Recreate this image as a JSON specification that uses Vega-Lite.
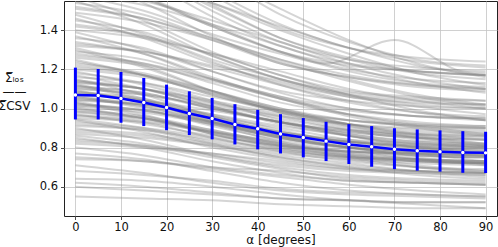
{
"$schema":"https://vega.github.io/schema/vega-lite/v6.json",
"width":433,"height":215,"autosize":"none",
"padding":{"left":64,"top":1,"right":1,"bottom":31},
"config":{"view":{"stroke":"#222","strokeWidth":1},"font":"DejaVu Sans",
"axis":{"grid":true,"gridColor":"#c4c4c4","gridWidth":0.8,"domain":false,"tickColor":"#222","tickSize":3.5,"tickWidth":0.8,"labelFontSize":11.5,"labelColor":"#111","titleFontSize":12,"titleFontWeight":"normal","titleColor":"#111","labelFont":"DejaVu Sans","titleFont":"DejaVu Sans"}},
"datasets":{
"mean":[
{"a":0,"m":1.069,"lo":0.944,"hi":1.209},{"a":5,"m":1.066,"lo":0.944,"hi":1.202},{"a":10,"m":1.051,"lo":0.927,"hi":1.187},{"a":15,"m":1.031,"lo":0.910,"hi":1.156},{"a":20,"m":1.005,"lo":0.889,"hi":1.122},{"a":25,"m":0.974,"lo":0.864,"hi":1.088},{"a":30,"m":0.949,"lo":0.842,"hi":1.054},{"a":35,"m":0.918,"lo":0.816,"hi":1.022},{"a":40,"m":0.896,"lo":0.791,"hi":0.993},{"a":45,"m":0.870,"lo":0.770,"hi":0.971},{"a":50,"m":0.852,"lo":0.750,"hi":0.951},{"a":55,"m":0.833,"lo":0.731,"hi":0.932},{"a":60,"m":0.816,"lo":0.716,"hi":0.920},{"a":65,"m":0.804,"lo":0.702,"hi":0.910},{"a":70,"m":0.792,"lo":0.690,"hi":0.899},{"a":75,"m":0.784,"lo":0.682,"hi":0.893},{"a":80,"m":0.779,"lo":0.677,"hi":0.888},{"a":85,"m":0.775,"lo":0.671,"hi":0.884},{"a":90,"m":0.773,"lo":0.670,"hi":0.881}],
"lines":[
{"g":1,"a":0,"v":0.55},{"g":1,"a":15,"v":0.54},{"g":1,"a":30,"v":0.53},{"g":1,"a":45,"v":0.51},{"g":1,"a":60,"v":0.50},{"g":1,"a":75,"v":0.49},{"g":1,"a":90,"v":0.49},
{"g":2,"a":0,"v":0.60},{"g":2,"a":15,"v":0.58},{"g":2,"a":30,"v":0.56},{"g":2,"a":45,"v":0.54},{"g":2,"a":60,"v":0.53},{"g":2,"a":75,"v":0.52},{"g":2,"a":90,"v":0.52},
{"g":3,"a":0,"v":0.64},{"g":3,"a":15,"v":0.63},{"g":3,"a":30,"v":0.60},{"g":3,"a":45,"v":0.56},{"g":3,"a":60,"v":0.53},{"g":3,"a":75,"v":0.51},{"g":3,"a":90,"v":0.49},
{"g":4,"a":0,"v":0.68},{"g":4,"a":15,"v":0.66},{"g":4,"a":30,"v":0.63},{"g":4,"a":45,"v":0.59},{"g":4,"a":60,"v":0.57},{"g":4,"a":75,"v":0.56},{"g":4,"a":90,"v":0.55},
{"g":5,"a":0,"v":0.71},{"g":5,"a":15,"v":0.67},{"g":5,"a":30,"v":0.62},{"g":5,"a":45,"v":0.58},{"g":5,"a":60,"v":0.56},{"g":5,"a":75,"v":0.55},{"g":5,"a":90,"v":0.54},
{"g":6,"a":0,"v":0.74},{"g":6,"a":15,"v":0.73},{"g":6,"a":30,"v":0.70},{"g":6,"a":45,"v":0.68},{"g":6,"a":60,"v":0.65},{"g":6,"a":75,"v":0.63},{"g":6,"a":90,"v":0.62},
{"g":7,"a":0,"v":0.77},{"g":7,"a":15,"v":0.74},{"g":7,"a":30,"v":0.68},{"g":7,"a":45,"v":0.62},{"g":7,"a":60,"v":0.58},{"g":7,"a":75,"v":0.56},{"g":7,"a":90,"v":0.55},
{"g":8,"a":0,"v":0.80},{"g":8,"a":15,"v":0.76},{"g":8,"a":30,"v":0.70},{"g":8,"a":45,"v":0.66},{"g":8,"a":60,"v":0.63},{"g":8,"a":75,"v":0.62},{"g":8,"a":90,"v":0.61},
{"g":9,"a":0,"v":0.82},{"g":9,"a":15,"v":0.80},{"g":9,"a":30,"v":0.77},{"g":9,"a":45,"v":0.73},{"g":9,"a":60,"v":0.69},{"g":9,"a":75,"v":0.67},{"g":9,"a":90,"v":0.65},
{"g":10,"a":0,"v":0.84},{"g":10,"a":15,"v":0.81},{"g":10,"a":30,"v":0.75},{"g":10,"a":45,"v":0.69},{"g":10,"a":60,"v":0.64},{"g":10,"a":75,"v":0.62},{"g":10,"a":90,"v":0.61},
{"g":11,"a":0,"v":0.86},{"g":11,"a":15,"v":0.82},{"g":11,"a":30,"v":0.76},{"g":11,"a":45,"v":0.71},{"g":11,"a":60,"v":0.68},{"g":11,"a":75,"v":0.67},{"g":11,"a":90,"v":0.66},
{"g":12,"a":0,"v":0.88},{"g":12,"a":15,"v":0.86},{"g":12,"a":30,"v":0.81},{"g":12,"a":45,"v":0.75},{"g":12,"a":60,"v":0.70},{"g":12,"a":75,"v":0.66},{"g":12,"a":90,"v":0.64},
{"g":13,"a":0,"v":0.89},{"g":13,"a":15,"v":0.87},{"g":13,"a":30,"v":0.82},{"g":13,"a":45,"v":0.77},{"g":13,"a":60,"v":0.74},{"g":13,"a":75,"v":0.72},{"g":13,"a":90,"v":0.71},
{"g":14,"a":0,"v":0.90},{"g":14,"a":15,"v":0.84},{"g":14,"a":30,"v":0.76},{"g":14,"a":45,"v":0.70},{"g":14,"a":60,"v":0.66},{"g":14,"a":75,"v":0.64},{"g":14,"a":90,"v":0.63},
{"g":15,"a":0,"v":0.91},{"g":15,"a":15,"v":0.89},{"g":15,"a":30,"v":0.84},{"g":15,"a":45,"v":0.79},{"g":15,"a":60,"v":0.74},{"g":15,"a":75,"v":0.70},{"g":15,"a":90,"v":0.68},
{"g":16,"a":0,"v":0.93},{"g":16,"a":15,"v":0.90},{"g":16,"a":30,"v":0.85},{"g":16,"a":45,"v":0.79},{"g":16,"a":60,"v":0.75},{"g":16,"a":75,"v":0.73},{"g":16,"a":90,"v":0.72},
{"g":17,"a":0,"v":0.94},{"g":17,"a":15,"v":0.88},{"g":17,"a":30,"v":0.80},{"g":17,"a":45,"v":0.74},{"g":17,"a":60,"v":0.70},{"g":17,"a":75,"v":0.68},{"g":17,"a":90,"v":0.67},
{"g":18,"a":0,"v":0.95},{"g":18,"a":15,"v":0.93},{"g":18,"a":30,"v":0.88},{"g":18,"a":45,"v":0.83},{"g":18,"a":60,"v":0.78},{"g":18,"a":75,"v":0.74},{"g":18,"a":90,"v":0.72},
{"g":19,"a":0,"v":0.96},{"g":19,"a":15,"v":0.93},{"g":19,"a":30,"v":0.85},{"g":19,"a":45,"v":0.78},{"g":19,"a":60,"v":0.73},{"g":19,"a":75,"v":0.70},{"g":19,"a":90,"v":0.69},
{"g":20,"a":0,"v":0.97},{"g":20,"a":15,"v":0.92},{"g":20,"a":30,"v":0.86},{"g":20,"a":45,"v":0.81},{"g":20,"a":60,"v":0.78},{"g":20,"a":75,"v":0.77},{"g":20,"a":90,"v":0.76},
{"g":21,"a":0,"v":0.98},{"g":21,"a":15,"v":0.95},{"g":21,"a":30,"v":0.89},{"g":21,"a":45,"v":0.82},{"g":21,"a":60,"v":0.76},{"g":21,"a":75,"v":0.71},{"g":21,"a":90,"v":0.68},
{"g":22,"a":0,"v":0.99},{"g":22,"a":15,"v":0.96},{"g":22,"a":30,"v":0.89},{"g":22,"a":45,"v":0.82},{"g":22,"a":60,"v":0.77},{"g":22,"a":75,"v":0.74},{"g":22,"a":90,"v":0.73},
{"g":23,"a":0,"v":1.00},{"g":23,"a":15,"v":0.95},{"g":23,"a":30,"v":0.88},{"g":23,"a":45,"v":0.82},{"g":23,"a":60,"v":0.78},{"g":23,"a":75,"v":0.77},{"g":23,"a":90,"v":0.76},
{"g":24,"a":0,"v":1.01},{"g":24,"a":15,"v":0.98},{"g":24,"a":30,"v":0.92},{"g":24,"a":45,"v":0.85},{"g":24,"a":60,"v":0.79},{"g":24,"a":75,"v":0.74},{"g":24,"a":90,"v":0.71},
{"g":25,"a":0,"v":1.02},{"g":25,"a":15,"v":0.99},{"g":25,"a":30,"v":0.92},{"g":25,"a":45,"v":0.85},{"g":25,"a":60,"v":0.80},{"g":25,"a":75,"v":0.77},{"g":25,"a":90,"v":0.76},
{"g":26,"a":0,"v":1.03},{"g":26,"a":15,"v":0.96},{"g":26,"a":30,"v":0.87},{"g":26,"a":45,"v":0.80},{"g":26,"a":60,"v":0.76},{"g":26,"a":75,"v":0.74},{"g":26,"a":90,"v":0.73},
{"g":27,"a":0,"v":1.04},{"g":27,"a":15,"v":1.02},{"g":27,"a":30,"v":0.97},{"g":27,"a":45,"v":0.91},{"g":27,"a":60,"v":0.86},{"g":27,"a":75,"v":0.82},{"g":27,"a":90,"v":0.80},
{"g":28,"a":0,"v":1.05},{"g":28,"a":15,"v":1.01},{"g":28,"a":30,"v":0.92},{"g":28,"a":45,"v":0.83},{"g":28,"a":60,"v":0.77},{"g":28,"a":75,"v":0.73},{"g":28,"a":90,"v":0.72},
{"g":29,"a":0,"v":1.06},{"g":29,"a":15,"v":1.00},{"g":29,"a":30,"v":0.91},{"g":29,"a":45,"v":0.84},{"g":29,"a":60,"v":0.80},{"g":29,"a":75,"v":0.78},{"g":29,"a":90,"v":0.77},
{"g":30,"a":0,"v":1.07},{"g":30,"a":15,"v":1.04},{"g":30,"a":30,"v":0.99},{"g":30,"a":45,"v":0.93},{"g":30,"a":60,"v":0.87},{"g":30,"a":75,"v":0.83},{"g":30,"a":90,"v":0.80},
{"g":31,"a":0,"v":1.08},{"g":31,"a":15,"v":1.04},{"g":31,"a":30,"v":0.95},{"g":31,"a":45,"v":0.86},{"g":31,"a":60,"v":0.80},{"g":31,"a":75,"v":0.76},{"g":31,"a":90,"v":0.75},
{"g":32,"a":0,"v":1.09},{"g":32,"a":15,"v":1.03},{"g":32,"a":30,"v":0.94},{"g":32,"a":45,"v":0.87},{"g":32,"a":60,"v":0.83},{"g":32,"a":75,"v":0.81},{"g":32,"a":90,"v":0.80},
{"g":33,"a":0,"v":1.10},{"g":33,"a":15,"v":1.07},{"g":33,"a":30,"v":1.00},{"g":33,"a":45,"v":0.93},{"g":33,"a":60,"v":0.86},{"g":33,"a":75,"v":0.81},{"g":33,"a":90,"v":0.78},
{"g":34,"a":0,"v":1.11},{"g":34,"a":15,"v":1.08},{"g":34,"a":30,"v":1.00},{"g":34,"a":45,"v":0.93},{"g":34,"a":60,"v":0.88},{"g":34,"a":75,"v":0.85},{"g":34,"a":90,"v":0.84},
{"g":35,"a":0,"v":1.12},{"g":35,"a":15,"v":1.04},{"g":35,"a":30,"v":0.93},{"g":35,"a":45,"v":0.85},{"g":35,"a":60,"v":0.80},{"g":35,"a":75,"v":0.77},{"g":35,"a":90,"v":0.76},
{"g":36,"a":0,"v":1.13},{"g":36,"a":15,"v":1.10},{"g":36,"a":30,"v":1.03},{"g":36,"a":45,"v":0.96},{"g":36,"a":60,"v":0.89},{"g":36,"a":75,"v":0.84},{"g":36,"a":90,"v":0.81},
{"g":37,"a":0,"v":1.14},{"g":37,"a":15,"v":1.10},{"g":37,"a":30,"v":1.02},{"g":37,"a":45,"v":0.95},{"g":37,"a":60,"v":0.89},{"g":37,"a":75,"v":0.86},{"g":37,"a":90,"v":0.85},
{"g":38,"a":0,"v":1.15},{"g":38,"a":15,"v":1.07},{"g":38,"a":30,"v":0.96},{"g":38,"a":45,"v":0.88},{"g":38,"a":60,"v":0.83},{"g":38,"a":75,"v":0.80},{"g":38,"a":90,"v":0.79},
{"g":39,"a":0,"v":1.16},{"g":39,"a":15,"v":1.13},{"g":39,"a":30,"v":1.06},{"g":39,"a":45,"v":0.99},{"g":39,"a":60,"v":0.92},{"g":39,"a":75,"v":0.87},{"g":39,"a":90,"v":0.84},
{"g":40,"a":0,"v":1.18},{"g":40,"a":15,"v":1.13},{"g":40,"a":30,"v":1.04},{"g":40,"a":45,"v":0.94},{"g":40,"a":60,"v":0.87},{"g":40,"a":75,"v":0.83},{"g":40,"a":90,"v":0.82},
{"g":41,"a":0,"v":1.19},{"g":41,"a":15,"v":1.12},{"g":41,"a":30,"v":1.03},{"g":41,"a":45,"v":0.96},{"g":41,"a":60,"v":0.92},{"g":41,"a":75,"v":0.90},{"g":41,"a":90,"v":0.89},
{"g":42,"a":0,"v":1.21},{"g":42,"a":15,"v":1.17},{"g":42,"a":30,"v":1.09},{"g":42,"a":45,"v":1.00},{"g":42,"a":60,"v":0.92},{"g":42,"a":75,"v":0.86},{"g":42,"a":90,"v":0.82},
{"g":43,"a":0,"v":1.22},{"g":43,"a":15,"v":1.17},{"g":43,"a":30,"v":1.08},{"g":43,"a":45,"v":0.98},{"g":43,"a":60,"v":0.91},{"g":43,"a":75,"v":0.87},{"g":43,"a":90,"v":0.86},
{"g":44,"a":0,"v":1.24},{"g":44,"a":15,"v":1.17},{"g":44,"a":30,"v":1.07},{"g":44,"a":45,"v":0.99},{"g":44,"a":60,"v":0.94},{"g":44,"a":75,"v":0.92},{"g":44,"a":90,"v":0.91},
{"g":45,"a":0,"v":1.26},{"g":45,"a":15,"v":1.22},{"g":45,"a":30,"v":1.14},{"g":45,"a":45,"v":1.05},{"g":45,"a":60,"v":0.96},{"g":45,"a":75,"v":0.90},{"g":45,"a":90,"v":0.86},
{"g":46,"a":0,"v":1.28},{"g":46,"a":15,"v":1.23},{"g":46,"a":30,"v":1.13},{"g":46,"a":45,"v":1.03},{"g":46,"a":60,"v":0.97},{"g":46,"a":75,"v":0.93},{"g":46,"a":90,"v":0.91},
{"g":47,"a":0,"v":1.30},{"g":47,"a":15,"v":1.21},{"g":47,"a":30,"v":1.09},{"g":47,"a":45,"v":1.00},{"g":47,"a":60,"v":0.94},{"g":47,"a":75,"v":0.91},{"g":47,"a":90,"v":0.90},
{"g":48,"a":0,"v":1.32},{"g":48,"a":15,"v":1.29},{"g":48,"a":30,"v":1.22},{"g":48,"a":45,"v":1.14},{"g":48,"a":60,"v":1.06},{"g":48,"a":75,"v":1.01},{"g":48,"a":90,"v":0.97},
{"g":49,"a":0,"v":1.34},{"g":49,"a":15,"v":1.28},{"g":49,"a":30,"v":1.16},{"g":49,"a":45,"v":1.05},{"g":49,"a":60,"v":0.97},{"g":49,"a":75,"v":0.92},{"g":49,"a":90,"v":0.90},
{"g":50,"a":0,"v":1.37},{"g":50,"a":15,"v":1.28},{"g":50,"a":30,"v":1.15},{"g":50,"a":45,"v":1.05},{"g":50,"a":60,"v":0.99},{"g":50,"a":75,"v":0.96},{"g":50,"a":90,"v":0.95},
{"g":51,"a":0,"v":1.40},{"g":51,"a":15,"v":1.36},{"g":51,"a":30,"v":1.28},{"g":51,"a":45,"v":1.19},{"g":51,"a":60,"v":1.10},{"g":51,"a":75,"v":1.04},{"g":51,"a":90,"v":1.00},
{"g":52,"a":0,"v":1.43},{"g":52,"a":15,"v":1.37},{"g":52,"a":30,"v":1.24},{"g":52,"a":45,"v":1.12},{"g":52,"a":60,"v":1.03},{"g":52,"a":75,"v":0.98},{"g":52,"a":90,"v":0.96},
{"g":53,"a":0,"v":1.46},{"g":53,"a":15,"v":1.36},{"g":53,"a":30,"v":1.23},{"g":53,"a":45,"v":1.13},{"g":53,"a":60,"v":1.06},{"g":53,"a":75,"v":1.03},{"g":53,"a":90,"v":1.02},
{"g":54,"a":0,"v":1.49},{"g":54,"a":15,"v":1.44},{"g":54,"a":30,"v":1.35},{"g":54,"a":45,"v":1.24},{"g":54,"a":60,"v":1.14},{"g":54,"a":75,"v":1.06},{"g":54,"a":90,"v":1.01},
{"g":55,"a":0,"v":1.52},{"g":55,"a":15,"v":1.46},{"g":55,"a":30,"v":1.35},{"g":55,"a":45,"v":1.23},{"g":55,"a":60,"v":1.16},{"g":55,"a":75,"v":1.11},{"g":55,"a":90,"v":1.09},
{"g":56,"a":0,"v":1.55},{"g":56,"a":15,"v":1.43},{"g":56,"a":30,"v":1.27},{"g":56,"a":45,"v":1.15},{"g":56,"a":60,"v":1.07},{"g":56,"a":75,"v":1.04},{"g":56,"a":90,"v":1.02},
{"g":57,"a":0,"v":1.58},{"g":57,"a":15,"v":1.53},{"g":57,"a":30,"v":1.43},{"g":57,"a":45,"v":1.32},{"g":57,"a":60,"v":1.21},{"g":57,"a":75,"v":1.13},{"g":57,"a":90,"v":1.08},
{"g":58,"a":0,"v":1.62},{"g":58,"a":15,"v":1.56},{"g":58,"a":30,"v":1.42},{"g":58,"a":45,"v":1.29},{"g":58,"a":60,"v":1.20},{"g":58,"a":75,"v":1.15},{"g":58,"a":90,"v":1.13},
{"g":59,"a":0,"v":1.66},{"g":59,"a":15,"v":1.54},{"g":59,"a":30,"v":1.37},{"g":59,"a":45,"v":1.23},{"g":59,"a":60,"v":1.16},{"g":59,"a":75,"v":1.12},{"g":59,"a":90,"v":1.10},
{"g":60,"a":0,"v":1.70},{"g":60,"a":15,"v":1.65},{"g":60,"a":30,"v":1.54},{"g":60,"a":45,"v":1.42},{"g":60,"a":60,"v":1.31},{"g":60,"a":75,"v":1.22},{"g":60,"a":90,"v":1.17},
{"g":61,"a":0,"v":1.75},{"g":61,"a":15,"v":1.68},{"g":61,"a":30,"v":1.52},{"g":61,"a":45,"v":1.36},{"g":61,"a":60,"v":1.26},{"g":61,"a":75,"v":1.19},{"g":61,"a":90,"v":1.17},
{"g":62,"a":0,"v":1.80},{"g":62,"a":15,"v":1.66},{"g":62,"a":30,"v":1.47},{"g":62,"a":45,"v":1.32},{"g":62,"a":60,"v":1.23},{"g":62,"a":75,"v":1.19},{"g":62,"a":90,"v":1.17},
{"g":63,"a":0,"v":1.86},{"g":63,"a":15,"v":1.78},{"g":63,"a":30,"v":1.60},{"g":63,"a":45,"v":1.43},{"g":63,"a":60,"v":1.31},{"g":63,"a":75,"v":1.24},{"g":63,"a":90,"v":1.21},
{"g":64,"a":0,"v":1.95},{"g":64,"a":15,"v":1.79},{"g":64,"a":30,"v":1.58},{"g":64,"a":45,"v":1.41},{"g":64,"a":60,"v":1.31},{"g":64,"a":75,"v":1.26},{"g":64,"a":90,"v":1.24},
{"g":65,"a":0,"v":1.58},{"g":65,"a":15,"v":1.50},{"g":65,"a":30,"v":1.38},{"g":65,"a":45,"v":1.28},{"g":65,"a":55,"v":1.23},{"g":65,"a":70,"v":1.35},{"g":65,"a":85,"v":1.19},{"g":65,"a":90,"v":1.18},
{"g":66,"a":0,"v":0.62},{"g":66,"a":15,"v":0.60},{"g":66,"a":30,"v":0.57},{"g":66,"a":45,"v":0.54},{"g":66,"a":60,"v":0.53},{"g":66,"a":75,"v":0.52},{"g":66,"a":90,"v":0.52},
{"g":67,"a":0,"v":0.75},{"g":67,"a":15,"v":0.73},{"g":67,"a":30,"v":0.69},{"g":67,"a":45,"v":0.65},{"g":67,"a":60,"v":0.61},{"g":67,"a":75,"v":0.58},{"g":67,"a":90,"v":0.56},
{"g":68,"a":0,"v":0.83},{"g":68,"a":15,"v":0.81},{"g":68,"a":30,"v":0.77},{"g":68,"a":45,"v":0.72},{"g":68,"a":60,"v":0.69},{"g":68,"a":75,"v":0.68},{"g":68,"a":90,"v":0.67},
{"g":69,"a":0,"v":0.85},{"g":69,"a":15,"v":0.80},{"g":69,"a":30,"v":0.73},{"g":69,"a":45,"v":0.67},{"g":69,"a":60,"v":0.63},{"g":69,"a":75,"v":0.62},{"g":69,"a":90,"v":0.61},
{"g":70,"a":0,"v":0.87},{"g":70,"a":15,"v":0.85},{"g":70,"a":30,"v":0.81},{"g":70,"a":45,"v":0.76},{"g":70,"a":60,"v":0.72},{"g":70,"a":75,"v":0.68},{"g":70,"a":90,"v":0.66},
{"g":71,"a":0,"v":0.92},{"g":71,"a":15,"v":0.89},{"g":71,"a":30,"v":0.82},{"g":71,"a":45,"v":0.75},{"g":71,"a":60,"v":0.71},{"g":71,"a":75,"v":0.68},{"g":71,"a":90,"v":0.67},
{"g":72,"a":0,"v":0.945},{"g":72,"a":15,"v":0.90},{"g":72,"a":30,"v":0.83},{"g":72,"a":45,"v":0.78},{"g":72,"a":60,"v":0.75},{"g":72,"a":75,"v":0.74},{"g":72,"a":90,"v":0.73},
{"g":73,"a":0,"v":0.965},{"g":73,"a":15,"v":0.94},{"g":73,"a":30,"v":0.88},{"g":73,"a":45,"v":0.81},{"g":73,"a":60,"v":0.75},{"g":73,"a":75,"v":0.70},{"g":73,"a":90,"v":0.67},
{"g":74,"a":0,"v":0.985},{"g":74,"a":15,"v":0.95},{"g":74,"a":30,"v":0.88},{"g":74,"a":45,"v":0.81},{"g":74,"a":60,"v":0.76},{"g":74,"a":75,"v":0.73},{"g":74,"a":90,"v":0.72},
{"g":75,"a":0,"v":1.005},{"g":75,"a":15,"v":0.95},{"g":75,"a":30,"v":0.87},{"g":75,"a":45,"v":0.81},{"g":75,"a":60,"v":0.78},{"g":75,"a":75,"v":0.76},{"g":75,"a":90,"v":0.75},
{"g":76,"a":0,"v":1.015},{"g":76,"a":15,"v":0.99},{"g":76,"a":30,"v":0.93},{"g":76,"a":45,"v":0.86},{"g":76,"a":60,"v":0.80},{"g":76,"a":75,"v":0.75},{"g":76,"a":90,"v":0.72},
{"g":77,"a":0,"v":1.025},{"g":77,"a":15,"v":0.99},{"g":77,"a":30,"v":0.93},{"g":77,"a":45,"v":0.87},{"g":77,"a":60,"v":0.83},{"g":77,"a":75,"v":0.80},{"g":77,"a":90,"v":0.79},
{"g":78,"a":0,"v":1.035},{"g":78,"a":15,"v":0.97},{"g":78,"a":30,"v":0.87},{"g":78,"a":45,"v":0.80},{"g":78,"a":60,"v":0.75},{"g":78,"a":75,"v":0.73},{"g":78,"a":90,"v":0.72},
{"g":79,"a":0,"v":1.045},{"g":79,"a":15,"v":1.02},{"g":79,"a":30,"v":0.96},{"g":79,"a":45,"v":0.90},{"g":79,"a":60,"v":0.84},{"g":79,"a":75,"v":0.80},{"g":79,"a":90,"v":0.77},
{"g":80,"a":0,"v":1.055},{"g":80,"a":15,"v":1.02},{"g":80,"a":30,"v":0.93},{"g":80,"a":45,"v":0.85},{"g":80,"a":60,"v":0.80},{"g":80,"a":75,"v":0.76},{"g":80,"a":90,"v":0.75},
{"g":81,"a":0,"v":1.065},{"g":81,"a":15,"v":1.01},{"g":81,"a":30,"v":0.93},{"g":81,"a":45,"v":0.86},{"g":81,"a":60,"v":0.83},{"g":81,"a":75,"v":0.81},{"g":81,"a":90,"v":0.80},
{"g":82,"a":0,"v":1.075},{"g":82,"a":15,"v":1.04},{"g":82,"a":30,"v":0.97},{"g":82,"a":45,"v":0.89},{"g":82,"a":60,"v":0.82},{"g":82,"a":75,"v":0.77},{"g":82,"a":90,"v":0.73},
{"g":83,"a":0,"v":1.085},{"g":83,"a":15,"v":1.05},{"g":83,"a":30,"v":0.96},{"g":83,"a":45,"v":0.88},{"g":83,"a":60,"v":0.83},{"g":83,"a":75,"v":0.79},{"g":83,"a":90,"v":0.78},
{"g":84,"a":0,"v":1.095},{"g":84,"a":15,"v":1.03},{"g":84,"a":30,"v":0.95},{"g":84,"a":45,"v":0.88},{"g":84,"a":60,"v":0.84},{"g":84,"a":75,"v":0.82},{"g":84,"a":90,"v":0.81},
{"g":85,"a":0,"v":1.105},{"g":85,"a":15,"v":1.07},{"g":85,"a":30,"v":1.01},{"g":85,"a":45,"v":0.93},{"g":85,"a":60,"v":0.86},{"g":85,"a":75,"v":0.80},{"g":85,"a":90,"v":0.77},
{"g":86,"a":0,"v":1.115},{"g":86,"a":15,"v":1.08},{"g":86,"a":30,"v":1.00},{"g":86,"a":45,"v":0.93},{"g":86,"a":60,"v":0.88},{"g":86,"a":75,"v":0.85},{"g":86,"a":90,"v":0.84},
{"g":87,"a":0,"v":1.125},{"g":87,"a":15,"v":1.05},{"g":87,"a":30,"v":0.94},{"g":87,"a":45,"v":0.86},{"g":87,"a":60,"v":0.81},{"g":87,"a":75,"v":0.78},{"g":87,"a":90,"v":0.77},
{"g":88,"a":0,"v":1.135},{"g":88,"a":15,"v":1.10},{"g":88,"a":30,"v":1.04},{"g":88,"a":45,"v":0.97},{"g":88,"a":60,"v":0.90},{"g":88,"a":75,"v":0.85},{"g":88,"a":90,"v":0.82},
{"g":89,"a":0,"v":1.145},{"g":89,"a":15,"v":1.10},{"g":89,"a":30,"v":1.01},{"g":89,"a":45,"v":0.92},{"g":89,"a":60,"v":0.86},{"g":89,"a":75,"v":0.82},{"g":89,"a":90,"v":0.81},
{"g":90,"a":0,"v":1.17},{"g":90,"a":15,"v":1.10},{"g":90,"a":30,"v":1.01},{"g":90,"a":45,"v":0.93},{"g":90,"a":60,"v":0.89},{"g":90,"a":75,"v":0.87},{"g":90,"a":90,"v":0.86},
{"g":91,"a":0,"v":1.20},{"g":91,"a":15,"v":1.16},{"g":91,"a":30,"v":1.08},{"g":91,"a":45,"v":0.99},{"g":91,"a":60,"v":0.91},{"g":91,"a":75,"v":0.85},{"g":91,"a":90,"v":0.81},
{"g":92,"a":0,"v":1.23},{"g":92,"a":15,"v":1.18},{"g":92,"a":30,"v":1.09},{"g":92,"a":45,"v":0.99},{"g":92,"a":60,"v":0.92},{"g":92,"a":75,"v":0.88},{"g":92,"a":90,"v":0.87},
{"g":93,"a":0,"v":1.25},{"g":93,"a":15,"v":1.17},{"g":93,"a":30,"v":1.07},{"g":93,"a":45,"v":0.98},{"g":93,"a":60,"v":0.94},{"g":93,"a":75,"v":0.91},{"g":93,"a":90,"v":0.90},
{"g":94,"a":0,"v":1.27},{"g":94,"a":15,"v":1.23},{"g":94,"a":30,"v":1.15},{"g":94,"a":45,"v":1.06},{"g":94,"a":60,"v":0.97},{"g":94,"a":75,"v":0.91},{"g":94,"a":90,"v":0.87},
{"g":95,"a":0,"v":1.29},{"g":95,"a":15,"v":1.25},{"g":95,"a":30,"v":1.15},{"g":95,"a":45,"v":1.06},{"g":95,"a":60,"v":1.00},{"g":95,"a":75,"v":0.96},{"g":95,"a":90,"v":0.95},
{"g":96,"a":0,"v":1.31},{"g":96,"a":15,"v":1.22},{"g":96,"a":30,"v":1.09},{"g":96,"a":45,"v":0.98},{"g":96,"a":60,"v":0.92},{"g":96,"a":75,"v":0.89},{"g":96,"a":90,"v":0.88},
{"g":97,"a":0,"v":1.33},{"g":97,"a":15,"v":1.29},{"g":97,"a":30,"v":1.21},{"g":97,"a":45,"v":1.12},{"g":97,"a":60,"v":1.04},{"g":97,"a":75,"v":0.98},{"g":97,"a":90,"v":0.94},
{"g":98,"a":0,"v":1.36},{"g":98,"a":15,"v":1.31},{"g":98,"a":30,"v":1.19},{"g":98,"a":45,"v":1.08},{"g":98,"a":60,"v":1.00},{"g":98,"a":75,"v":0.96},{"g":98,"a":90,"v":0.94},
{"g":99,"a":0,"v":1.39},{"g":99,"a":15,"v":1.30},{"g":99,"a":30,"v":1.19},{"g":99,"a":45,"v":1.09},{"g":99,"a":60,"v":1.04},{"g":99,"a":75,"v":1.01},{"g":99,"a":90,"v":1.00},
{"g":100,"a":0,"v":1.42},{"g":100,"a":15,"v":1.37},{"g":100,"a":30,"v":1.28},{"g":100,"a":45,"v":1.17},{"g":100,"a":60,"v":1.07},{"g":100,"a":75,"v":0.99},{"g":100,"a":90,"v":0.94},
{"g":101,"a":0,"v":1.45},{"g":101,"a":15,"v":1.39},{"g":101,"a":30,"v":1.27},{"g":101,"a":45,"v":1.15},{"g":101,"a":60,"v":1.07},{"g":101,"a":75,"v":1.02},{"g":101,"a":90,"v":1.00},
{"g":102,"a":0,"v":1.48},{"g":102,"a":15,"v":1.38},{"g":102,"a":30,"v":1.25},{"g":102,"a":45,"v":1.15},{"g":102,"a":60,"v":1.08},{"g":102,"a":75,"v":1.05},{"g":102,"a":90,"v":1.04},
{"g":103,"a":0,"v":1.51},{"g":103,"a":15,"v":1.46},{"g":103,"a":30,"v":1.36},{"g":103,"a":45,"v":1.25},{"g":103,"a":60,"v":1.15},{"g":103,"a":75,"v":1.07},{"g":103,"a":90,"v":1.02},
{"g":104,"a":0,"v":1.54},{"g":104,"a":15,"v":1.48},{"g":104,"a":30,"v":1.36},{"g":104,"a":45,"v":1.25},{"g":104,"a":60,"v":1.17},{"g":104,"a":75,"v":1.12},{"g":104,"a":90,"v":1.10},
{"g":105,"a":0,"v":1.57},{"g":105,"a":15,"v":1.45},{"g":105,"a":30,"v":1.29},{"g":105,"a":45,"v":1.17},{"g":105,"a":60,"v":1.09},{"g":105,"a":75,"v":1.06},{"g":105,"a":90,"v":1.04},
{"g":106,"a":0,"v":1.60},{"g":106,"a":15,"v":1.55},{"g":106,"a":30,"v":1.45},{"g":106,"a":45,"v":1.34},{"g":106,"a":60,"v":1.23},{"g":106,"a":75,"v":1.15},{"g":106,"a":90,"v":1.10},
{"g":107,"a":0,"v":1.64},{"g":107,"a":15,"v":1.57},{"g":107,"a":30,"v":1.43},{"g":107,"a":45,"v":1.29},{"g":107,"a":60,"v":1.19},{"g":107,"a":75,"v":1.13},{"g":107,"a":90,"v":1.11},
{"g":108,"a":0,"v":1.68},{"g":108,"a":15,"v":1.57},{"g":108,"a":30,"v":1.42},{"g":108,"a":45,"v":1.29},{"g":108,"a":60,"v":1.22},{"g":108,"a":75,"v":1.19},{"g":108,"a":90,"v":1.17},
{"g":109,"a":0,"v":1.72},{"g":109,"a":15,"v":1.66},{"g":109,"a":30,"v":1.54},{"g":109,"a":45,"v":1.40},{"g":109,"a":60,"v":1.28},{"g":109,"a":75,"v":1.18},{"g":109,"a":90,"v":1.12},
{"g":110,"a":0,"v":1.78},{"g":110,"a":15,"v":1.70},{"g":110,"a":30,"v":1.53},{"g":110,"a":45,"v":1.36},{"g":110,"a":60,"v":1.25},{"g":110,"a":75,"v":1.18},{"g":110,"a":90,"v":1.15},
{"g":111,"a":0,"v":1.83},{"g":111,"a":15,"v":1.69},{"g":111,"a":30,"v":1.50},{"g":111,"a":45,"v":1.34},{"g":111,"a":60,"v":1.25},{"g":111,"a":75,"v":1.21},{"g":111,"a":90,"v":1.19},
{"g":112,"a":0,"v":1.90},{"g":112,"a":15,"v":1.83},{"g":112,"a":30,"v":1.68},{"g":112,"a":45,"v":1.51},{"g":112,"a":60,"v":1.35},{"g":112,"a":75,"v":1.23},{"g":112,"a":90,"v":1.16},
{"g":113,"a":0,"v":2.00},{"g":113,"a":15,"v":1.90},{"g":113,"a":30,"v":1.69},{"g":113,"a":45,"v":1.48},{"g":113,"a":60,"v":1.34},{"g":113,"a":75,"v":1.25},{"g":113,"a":90,"v":1.22}
]},
"encoding":{
"x":{"field":"a","type":"quantitative","scale":{"domain":[-2.5,92.5],"nice":false,"zero":false},
"axis":{"values":[0,10,20,30,40,50,60,70,80,90],"title":"α [degrees]","labelPadding":2,"titlePadding":1}},
"y":{"type":"quantitative","scale":{"domain":[0.45,1.55],"nice":false,"zero":false},
"axis":{"values":[0.6,0.8,1.0,1.2,1.4],"format":".1f","labelPadding":3,"title":["Σ̅ₗₒₛ","——","Σ̅CSV"],"titleAngle":0,"titleAlign":"center","titleBaseline":"middle","titleX":-50,"titleY":76,"titleLineHeight":14,"titleFontSize":12}}
},
"layer":[
{"data":{"name":"lines"},"mark":{"type":"line","stroke":"#808080","strokeWidth":2,"opacity":0.33,"interpolate":"monotone","clip":true},
"encoding":{"y":{"field":"v","type":"quantitative"},"detail":{"field":"g","type":"nominal"}}},
{"data":{"name":"mean"},"mark":{"type":"rule","color":"#0000ff","strokeWidth":3},
"encoding":{"y":{"field":"lo","type":"quantitative"},"y2":{"field":"hi"}}},
{"data":{"name":"mean"},"mark":{"type":"line","color":"#0000ff","strokeWidth":2.5},
"encoding":{"y":{"field":"m","type":"quantitative"}}},
{"data":{"name":"mean"},"mark":{"type":"point","filled":true,"color":"white","size":12,"opacity":1},
"encoding":{"y":{"field":"m","type":"quantitative"}}}
]
}
